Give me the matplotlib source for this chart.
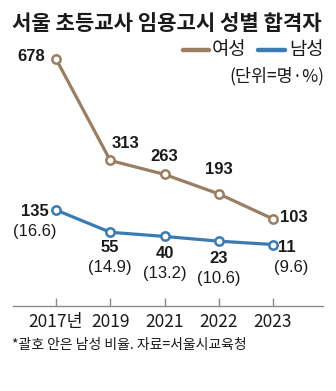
import matplotlib
matplotlib.use("Agg")
import matplotlib.pyplot as plt
from matplotlib.lines import Line2D

years = ["2017년", "2019", "2021", "2022", "2023"]
female = [678, 313, 263, 193, 103]
male = [135, 55, 40, 23, 11]
male_ratio = ["16.6", "14.9", "13.2", "10.6", "9.6"]

title = "서울 초등교사 임용고시 성별 합격자"
legend_labels = ["여성", "남성"]
unit_text = "(단위=명·%)"
footnote = "*괄호 안은 남성 비율. 자료=서울시교육청"

BROWN = "#9b7d62"
BLUE = "#3b7bb3"
GRAY = "#8a8a8a"
TXT = "#1a1a1a"

KR = ["Noto Sans CJK KR", "DejaVu Sans"]
NUM = ["Liberation Sans Narrow", "Liberation Sans", "DejaVu Sans"]

W, H = 336, 391
fig = plt.figure(figsize=(W / 100, H / 100), dpi=100)
fig.patch.set_facecolor("white")


def px(x, y):
    return x / W, 1 - y / H


# axes: pixel x 13..323, y 40..306
l, t, r, b = 13, 40, 323, 306
ax = fig.add_axes([l / W, 1 - b / H, (r - l) / W, (b - t) / H])
ax.set_facecolor("none")

xs = list(range(len(years)))
ax.set_xlim(-0.793, 4.922)
ax.set_ylim(-210, 746)

ax.plot(xs, female, color=BROWN, lw=2.3, marker="o", ms=6, mfc="white",
        mec=BROWN, mew=1.8, zorder=3, solid_capstyle="round")
ax.plot(xs, male, color=BLUE, lw=2.3, marker="o", ms=6, mfc="white",
        mec=BLUE, mew=1.8, zorder=3, solid_capstyle="round")

for s in ["top", "left", "right"]:
    ax.spines[s].set_visible(False)
ax.spines["bottom"].set_color(GRAY)
ax.spines["bottom"].set_linewidth(1.0)
ax.set_yticks([])
ax.set_xticks(xs)
ax.set_xticklabels(years)
ax.tick_params(axis="x", direction="in", length=6, width=1.0, color=GRAY,
               pad=5, labelsize=12.5, labelcolor=TXT)
for lab in ax.get_xticklabels():
    lab.set_family(KR[:1] + NUM)

# female labels: (dx, dy, ha)
f_off = [(-11, 2, "right"), (15, 17, "center"), (0, 18, "center"),
         (0, 24, "center"), (7, 1, "left")]
for x, v, (dx, dy, ha) in zip(xs, female, f_off):
    ax.annotate(str(v), (x, v), xytext=(dx, dy), textcoords="offset pixels",
                ha=ha, va="center", fontsize=12, fontweight="bold",
                family=NUM, color=TXT)

m_off = [(-21, -1, "center"), (0, -15, "center"), (0, -17, "center"),
         (0, -17, "center"), (5, -3, "left")]
p_off = [(-21, -21), (0, -35), (0, -37), (0, -37), (18, -23)]
for x, v, rr, (dx, dy, ha), (pdx, pdy) in zip(xs, male, male_ratio, m_off, p_off):
    ax.annotate(str(v), (x, v), xytext=(dx, dy), textcoords="offset pixels",
                ha=ha, va="center", fontsize=12, fontweight="bold",
                family=NUM, color=TXT)
    ax.annotate(f"({rr})", (x, v), xytext=(pdx, pdy), textcoords="offset pixels",
                ha="center", va="center", fontsize=12, family=NUM, color=TXT)

# title
fig.text(*px(12, 24), title, ha="left", va="center", fontsize=15.2,
         fontweight="bold", family=KR, color=TXT)

# legend
fig.add_artist(Line2D([183 / W, 209 / W], [1 - 50 / H] * 2, color=BROWN, lw=3.2,
                      solid_capstyle="round"))
fig.text(*px(212, 50), legend_labels[0], ha="left", va="center", fontsize=13.5,
         family=KR, color=TXT)
fig.add_artist(Line2D([258 / W, 285 / W], [1 - 50 / H] * 2, color=BLUE, lw=3.2,
                      solid_capstyle="round"))
fig.text(*px(289, 50), legend_labels[1], ha="left", va="center", fontsize=13.5,
         family=KR, color=TXT)
fig.text(*px(324, 76), unit_text, ha="right", va="center", fontsize=12.5,
         family=KR, color=TXT)

# footnote
fig.text(*px(12, 345), footnote, ha="left", va="center", fontsize=10,
         family=KR, color=TXT)

fig.savefig("out.png", dpi=100, facecolor="white")
